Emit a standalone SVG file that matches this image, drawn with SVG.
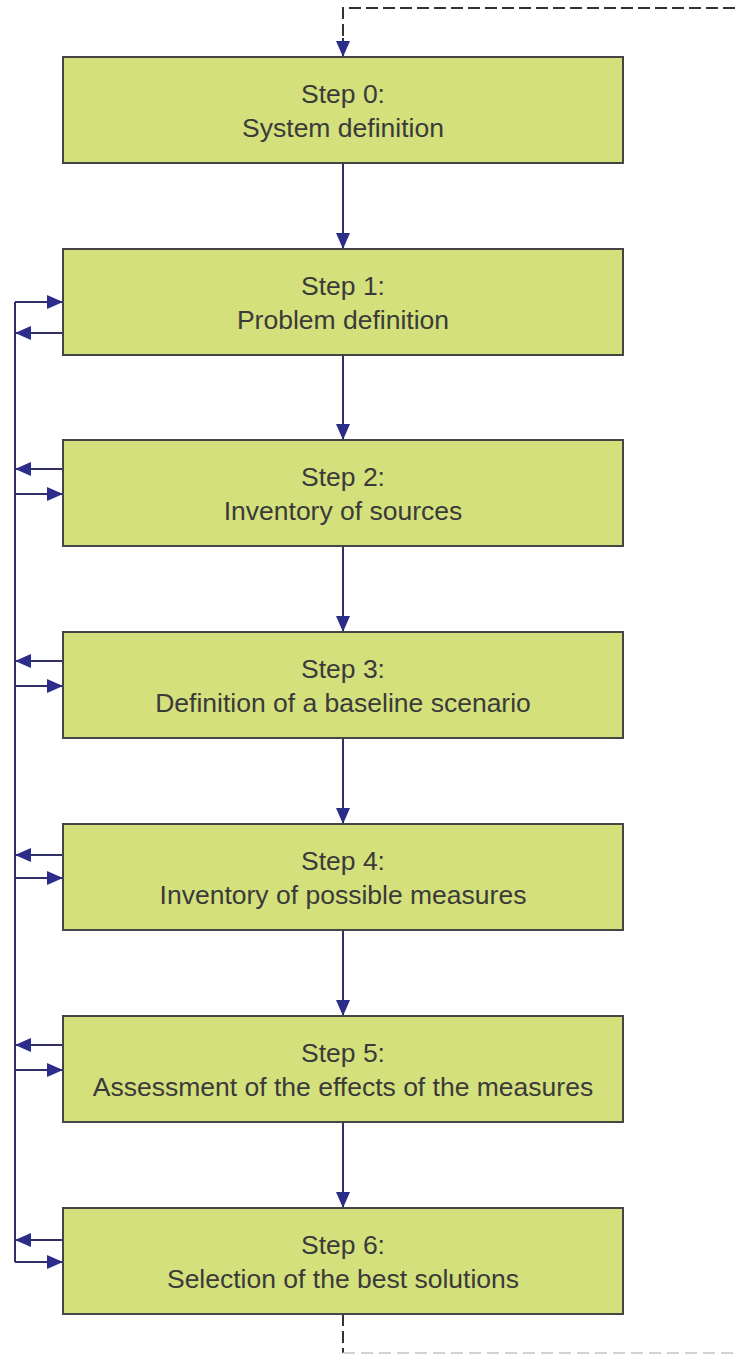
<svg xmlns="http://www.w3.org/2000/svg" width="735" height="1357" viewBox="0 0 735 1357">
<style>
.box{fill:#d3e07b;stroke:#454545;stroke-width:2}
.t{font-family:"Liberation Sans",Arial,sans-serif;font-size:26.5px;fill:#3a3a3a;text-anchor:middle}
.c{fill:none;stroke:#2f2f66;stroke-width:2}
.d{fill:none;stroke:#333;stroke-width:2;stroke-dasharray:12 5}
.df{fill:none;stroke:#c4c4c4;stroke-width:1.5;stroke-dasharray:12 6}
</style>
<defs>
<marker id="ah" markerUnits="userSpaceOnUse" markerWidth="17" markerHeight="14" refX="16" refY="7" orient="auto">
<path d="M0,0 L16,7 L0,14 z" fill="#2c2c8a"/>
</marker>
</defs>
<rect width="735" height="1357" fill="#fff"/>
<g id="connectors">
<path class="d" d="M735,8 H343 V40"/>
<path class="c" d="M343,38 V57" marker-end="url(#ah)"/>
<path class="c" d="M343,163 V249" marker-end="url(#ah)"/>
<path class="c" d="M343,355 V440" marker-end="url(#ah)"/>
<path class="c" d="M343,546 V632" marker-end="url(#ah)"/>
<path class="c" d="M343,738 V824" marker-end="url(#ah)"/>
<path class="c" d="M343,930 V1016" marker-end="url(#ah)"/>
<path class="c" d="M343,1122 V1208" marker-end="url(#ah)"/>
<path class="d" d="M343,1314 V1353"/>
<path class="df" d="M343,1353 H735"/>
<path class="c" d="M15,302 V1262"/>
<path class="c" d="M15,302 H63" marker-end="url(#ah)"/>
<path class="c" d="M63,333 H15" marker-end="url(#ah)"/>
<path class="c" d="M63,469 H15" marker-end="url(#ah)"/>
<path class="c" d="M15,494 H63" marker-end="url(#ah)"/>
<path class="c" d="M63,661 H15" marker-end="url(#ah)"/>
<path class="c" d="M15,686 H63" marker-end="url(#ah)"/>
<path class="c" d="M63,855 H15" marker-end="url(#ah)"/>
<path class="c" d="M15,878 H63" marker-end="url(#ah)"/>
<path class="c" d="M63,1045 H15" marker-end="url(#ah)"/>
<path class="c" d="M15,1070 H63" marker-end="url(#ah)"/>
<path class="c" d="M63,1240 H15" marker-end="url(#ah)"/>
<path class="c" d="M15,1262 H63" marker-end="url(#ah)"/>
</g>
<g id="step0"><rect class="box" x="63" y="57" width="560" height="106"/><text class="t" x="343" y="103">Step 0:</text><text class="t" x="343" y="137">System definition</text></g>
<g id="step1"><rect class="box" x="63" y="249" width="560" height="106"/><text class="t" x="343" y="295">Step 1:</text><text class="t" x="343" y="329">Problem definition</text></g>
<g id="step2"><rect class="box" x="63" y="440" width="560" height="106"/><text class="t" x="343" y="486">Step 2:</text><text class="t" x="343" y="520">Inventory of sources</text></g>
<g id="step3"><rect class="box" x="63" y="632" width="560" height="106"/><text class="t" x="343" y="678">Step 3:</text><text class="t" x="343" y="712">Definition of a baseline scenario</text></g>
<g id="step4"><rect class="box" x="63" y="824" width="560" height="106"/><text class="t" x="343" y="870">Step 4:</text><text class="t" x="343" y="904">Inventory of possible measures</text></g>
<g id="step5"><rect class="box" x="63" y="1016" width="560" height="106"/><text class="t" x="343" y="1062">Step 5:</text><text class="t" x="343" y="1096">Assessment of the effects of the measures</text></g>
<g id="step6"><rect class="box" x="63" y="1208" width="560" height="106"/><text class="t" x="343" y="1254">Step 6:</text><text class="t" x="343" y="1288">Selection of the best solutions</text></g>
</svg>
